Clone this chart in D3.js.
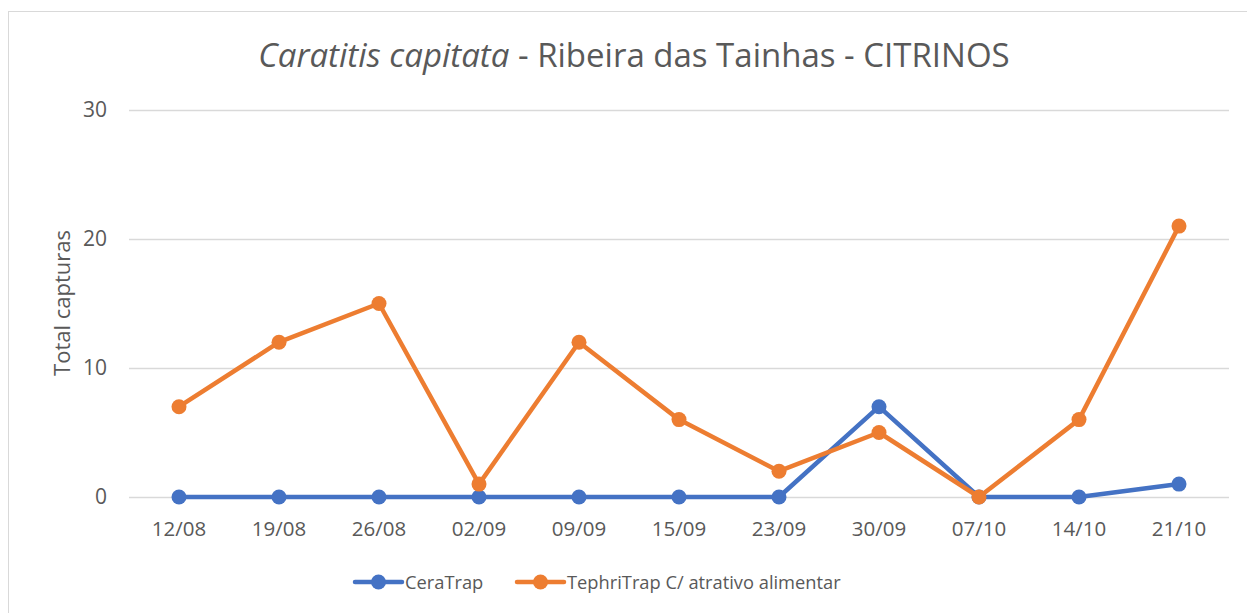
<!DOCTYPE html>
<html>
<head>
<meta charset="utf-8">
<script src="https://cdn.jsdelivr.net/npm/d3@7"></script>
<style>
  body { margin: 0; background: #fff; }
  text { font-family: "Open Sans", "Noto Sans", sans-serif; fill: #595959; }
</style>
</head>
<body>
<svg id="chart" width="1247" height="613"></svg>
<script>
// datas de recolha
var datas = ['12/08', '19/08', '26/08', '02/09', '09/09', '15/09', '23/09', '30/09', '07/10', '14/10', '21/10'];
var ceraTrap = [0, 0, 0, 0, 0, 0, 0, 7, 0, 0, 1];
var tephriTrap = [7, 12, 15, 1, 12, 6, 2, 5, 0, 6, 21];
var yTicks = [0, 10, 20, 30];

var series = [
  { name: 'CeraTrap', values: ceraTrap, color: '#4472C4' },
  { name: 'TephriTrap C/ atrativo alimentar', values: tephriTrap, color: '#ED7D31' }
];

var svg = d3.select('#chart');

// moldura do grafico
svg.append('rect')
  .attr('x', 8.5).attr('y', 11.5)
  .attr('width', 1260).attr('height', 620)
  .attr('fill', 'none').attr('stroke', '#d9d9d9');

var plot = { left: 129, right: 1229, top: 110, bottom: 497 };

var x = d3.scaleBand()
  .domain(datas)
  .range([plot.left, plot.right]);

var y = d3.scaleLinear()
  .domain([0, 30])
  .range([plot.bottom, plot.top]);

// grelha
svg.append('g').selectAll('line')
  .data(yTicks)
  .enter().append('line')
  .attr('x1', plot.left).attr('x2', plot.right)
  .attr('y1', function(d) { return y(d) + 0.5; })
  .attr('y2', function(d) { return y(d) + 0.5; })
  .attr('stroke', '#d9d9d9').attr('stroke-width', 1.3);

var yAxis = svg.append('g')
  .attr('transform', 'translate(' + plot.left + ',0)')
  .call(d3.axisLeft(y).tickValues(yTicks).tickSize(0).tickPadding(22));
yAxis.select('.domain').remove();
yAxis.selectAll('text').style('font-size', '21px').attr('fill', '#595959');

var xAxis = svg.append('g')
  .attr('transform', 'translate(0,' + plot.bottom + ')')
  .call(d3.axisBottom(x).tickSize(0).tickPadding(24));
xAxis.select('.domain').remove();
xAxis.selectAll('text').style('font-size', '20.5px').attr('fill', '#595959');

// titulo
var title = svg.append('text')
  .attr('x', 634).attr('y', 67)
  .attr('text-anchor', 'middle')
  .style('font-size', '33px');
title.append('tspan').style('font-style', 'italic').text('Caratitis capitata');
title.append('tspan').text(' - Ribeira das Tainhas - CITRINOS');

svg.append('text')
  .attr('transform', 'translate(70,303) rotate(-90)')
  .attr('text-anchor', 'middle')
  .style('font-size', '22px')
  .text('Total capturas');

var line = d3.line()
  .x(function(d, i) { return x(datas[i]) + x.bandwidth() / 2; })
  .y(function(d) { return y(d); });

series.forEach(function(s) {
  var g = svg.append('g');
  g.append('path')
    .datum(s.values)
    .attr('d', line)
    .attr('fill', 'none')
    .attr('stroke', s.color)
    .attr('stroke-width', 4.5)
    .attr('stroke-linejoin', 'round');
  g.selectAll('circle')
    .data(s.values)
    .enter().append('circle')
    .attr('cx', function(d, i) { return x(datas[i]) + x.bandwidth() / 2; })
    .attr('cy', function(d) { return y(d); })
    .attr('r', 7.5)
    .attr('fill', s.color);
});

// legenda
var legendPos = [355, 517];
series.forEach(function(s, i) {
  var lg = svg.append('g').attr('transform', 'translate(' + legendPos[i] + ',582)');
  lg.append('line')
    .attr('x1', 0).attr('x2', 47)
    .attr('stroke', s.color).attr('stroke-width', 4.5)
    .attr('stroke-linecap', 'round');
  lg.append('circle').attr('cx', 23.5).attr('r', 7.5).attr('fill', s.color);
  lg.append('text')
    .attr('x', 50).attr('y', 7)
    .style('font-size', '18.3px')
    .text(s.name);
});
</script>
</body>
</html>
